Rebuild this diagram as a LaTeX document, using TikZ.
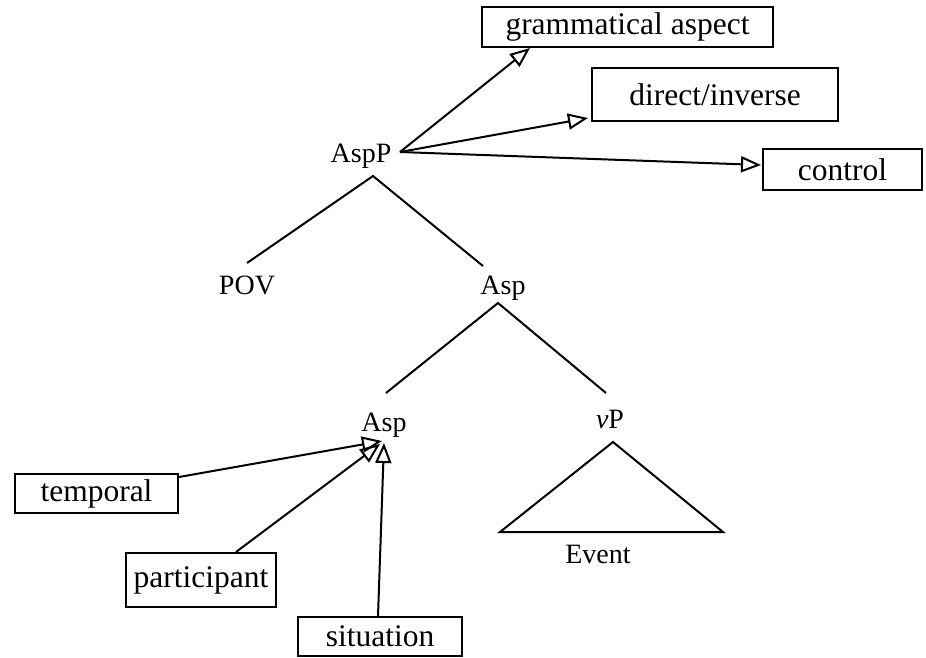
\documentclass[tikz,border=0pt]{standalone}
\usepackage{fontspec}
\setmainfont{Liberation Serif}
\usetikzlibrary{arrows.meta,calc}

\tikzset{
  featbox/.style={draw, line width=2pt, inner sep=0pt, align=center,
    font=\fontsize{31.5}{36}\selectfont},
  treelabel/.style={inner sep=0pt, anchor=base,
    font=\fontsize{28}{32}\selectfont},
  branch/.style={line width=2pt},
  feed/.style={line width=2pt, -{Triangle[open, length=20pt, width=16pt]}}
}

\begin{document}
\begin{tikzpicture}[x=1pt, y=-1pt]
  \useasboundingbox (0,0) rectangle (926,657);

  % tree labels
  \node[treelabel] (aspp)  at (361,162) {AspP};
  \node[treelabel] (pov)   at (247,294) {POV};
  \node[treelabel] (asp1)  at (503,294) {Asp};
  \node[treelabel] (asp2)  at (384,431) {Asp};
  \node[treelabel] (vp)    at (610,428) {\textit{v}P};
  \node[treelabel] (event) at (598,563) {Event};

  % branch points of the tree
  \coordinate (aspp-b)  at (373,176);
  \coordinate (pov-t)   at (247,263);
  \coordinate (asp1-t)  at (483,266);
  \coordinate (asp1-b)  at (498,303);
  \coordinate (asp2-t)  at (386,393);
  \coordinate (vp-t)    at (606,393);
  \coordinate (tri-top) at (613,442);
  \coordinate (tri-l)   at (500,532);
  \coordinate (tri-r)   at (723,532);

  \draw[branch] (pov-t) -- (aspp-b) -- (asp1-t);
  \draw[branch] (asp2-t) -- (asp1-b) -- (vp-t);
  \draw[branch, line join=miter] (tri-top) -- (tri-l) -- (tri-r) -- cycle;

  % feature boxes
  \node[featbox, minimum width=291pt, minimum height=40pt] (ga)  at (627.5,27)   {grammatical aspect};
  \node[featbox, minimum width=246pt, minimum height=53pt] (di)  at (715,94.5)   {direct/inverse};
  \node[featbox, minimum width=159pt, minimum height=41pt] (ctl) at (842.5,169.5) {control};
  \node[featbox, minimum width=163pt, minimum height=39pt] (tmp) at (96.5,493.5) {temporal};
  \node[featbox, minimum width=150pt, minimum height=54pt] (par) at (201,580)    {participant};
  \node[featbox, minimum width=164pt, minimum height=39pt] (sit) at (380,636.5)  {situation};

  % arrows from AspP to its features
  \coordinate (aspp-out) at (400,152);
  \draw[feed] (aspp-out) -- ($(ga.south west)+(49,0)$);
  \draw[feed] (aspp-out) -- ($(di.south west)+(-3,-4)$);
  \draw[feed] (aspp-out) -- ($(ctl.west)+(-1,-4.5)$);

  % arrows from the lower features into Asp
  \coordinate (asp2-in-a) at (382,441);
  \coordinate (asp2-in-b) at (380,444);
  \coordinate (asp2-in-c) at (384,443);
  \draw[feed] ($(tmp.north east)+(0,4)$) -- (asp2-in-a);
  \draw[feed] ($(par.north west)+(111,0)$) -- (asp2-in-b);
  \draw[feed] ($(sit.north west)+(81,0)$) -- (asp2-in-c);
\end{tikzpicture}
\end{document}
